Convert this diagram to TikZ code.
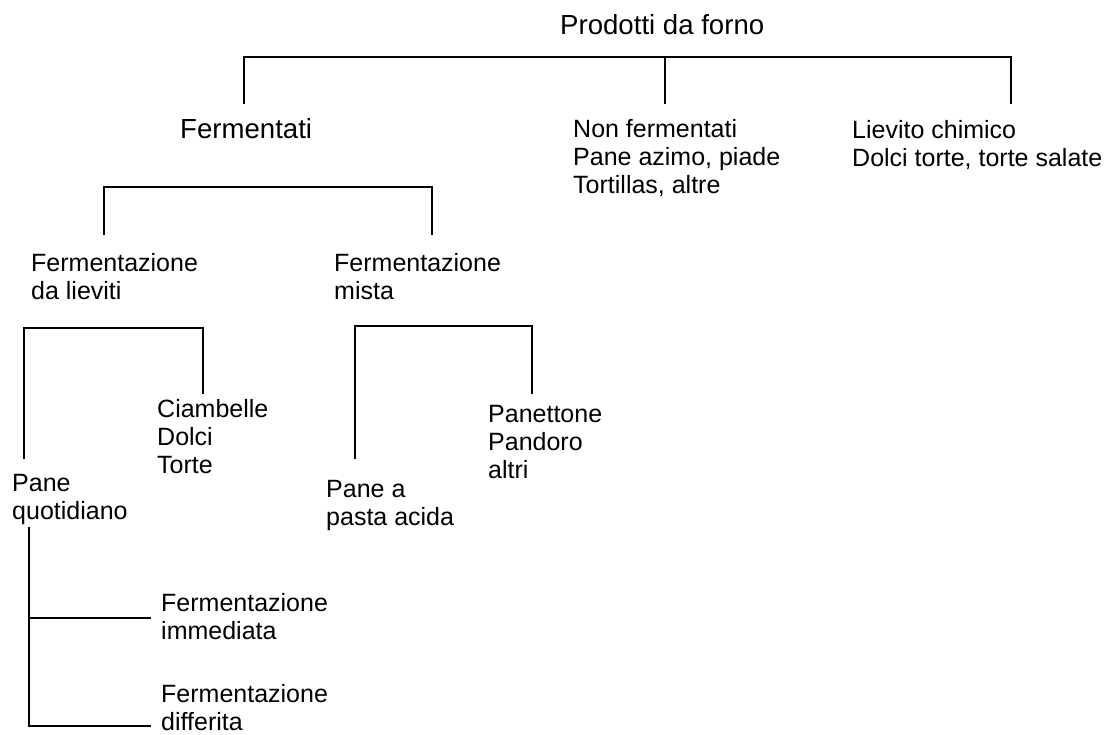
\documentclass[tikz,border=0pt]{standalone}
\usepackage{fontspec}
\setmainfont{Liberation Sans}
\tikzset{
	txt/.style={anchor=base west, inner sep=0pt, align=left,
			font=\fontsize{25}{28}\selectfont},
	bigtxt/.style={txt, font=\fontsize{27.6}{31}\selectfont},
	branch/.style={line width=1.6pt, line cap=rect}
}

\begin{document}
\begin{tikzpicture}[x=1pt,y=-1pt]
		\useasboundingbox (0,0) rectangle (1106,735);
		% Draw the labels (placed at the baseline of their last line)
		\node[bigtxt] (prod) at (560,35) {Prodotti da forno};
		\node[bigtxt] (ferm) at (180,139) {Fermentati};
		\node[txt] (nonferm) at (573,194) {Non fermentati\\Pane azimo, piade\\Tortillas, altre};
		\node[txt] (chim) at (852,167) {Lievito chimico\\Dolci torte, torte salate};
		\node[txt] (lieviti) at (31,300) {Fermentazione\\da lieviti};
		\node[txt] (mista) at (334,300) {Fermentazione\\mista};
		\node[txt] (dolci) at (157,473) {Ciambelle\\Dolci\\Torte};
		\node[txt] (panet) at (488,478) {Panettone\\Pandoro\\altri};
		\node[txt] (pane) at (12,519) {Pane\\quotidiano};
		\node[txt] (acida) at (326,525) {Pane a\\pasta acida};
		\node[txt] (immed) at (161,639) {Fermentazione\\immediata};
		\node[txt] (diff) at (161,730) {Fermentazione\\differita};
		% Ends of the branches
		\coordinate (top-l) at (244,103);
		\coordinate (top-m) at (665,103);
		\coordinate (top-r) at (1011,103);
		\coordinate (ferm-l) at (104,234);
		\coordinate (ferm-r) at (432,234);
		\coordinate (liev-l) at (24,458);
		\coordinate (liev-r) at (203,393);
		\coordinate (mista-l) at (355,458);
		\coordinate (mista-r) at (532,393);
		\coordinate (quot) at (29,528);
		\coordinate (immed-e) at (150,618);
		\coordinate (diff-e) at (150,726);
		% Draw the branches
		\draw[branch] (top-l) |- (244,57) -| (top-r);
		\draw[branch] (top-m) -- (665,57);
		\draw[branch] (ferm-l) |- (104,187) -| (ferm-r);
		\draw[branch] (liev-l) |- (24,328) -| (liev-r);
		\draw[branch] (mista-l) |- (355,326) -| (mista-r);
		\draw[branch] (quot) |- (diff-e);
		\draw[branch] (quot |- immed-e) -- (immed-e);
	\end{tikzpicture}
\end{document}
